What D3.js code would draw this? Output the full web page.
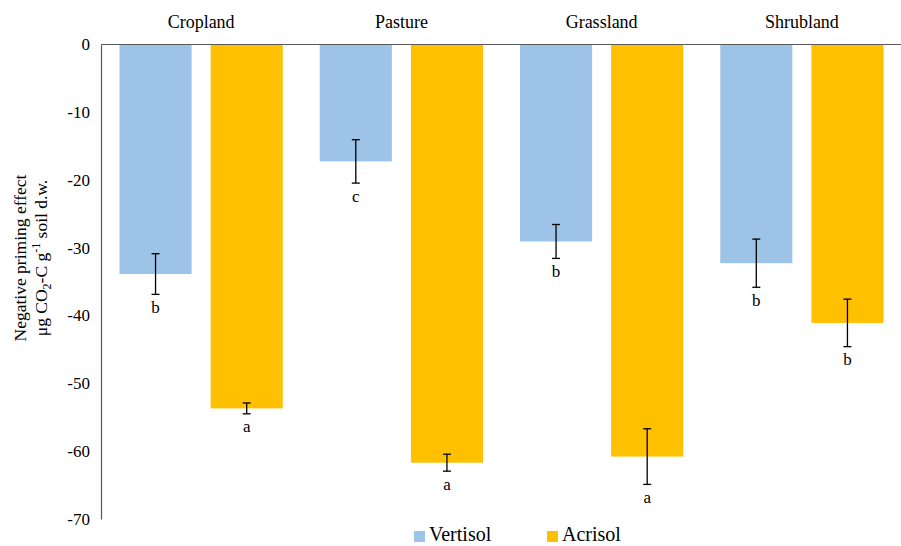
<!DOCTYPE html>
<html>
<head>
<meta charset="utf-8">
<script src="https://cdn.jsdelivr.net/npm/d3@7"></script>
<style>
  body { margin: 0; background: #fff; }
  svg { display: block; font-family: "Liberation Serif", "Times New Roman", serif; }
</style>
</head>
<body>
<svg id="chart" width="901" height="546"></svg>
<script>
const categories = ["Cropland", "Pasture", "Grassland", "Shrubland"];
const series = ["Vertisol", "Acrisol"];
const vertisolValues = [-33.9, -17.3, -29.1, -32.3];
const acrisolValues = [-53.7, -61.7, -60.8, -41.1];
const vertisolErrors = [3.0, 3.2, 2.5, 3.55];
const acrisolErrors = [0.8, 1.25, 4.1, 3.5];
const vertisolLetters = ["b", "c", "b", "b"];
const acrisolLetters = ["a", "a", "a", "b"];
const yTicks = [0, -10, -20, -30, -40, -50, -60, -70];
const colors = {Vertisol: "#9DC3E6", Acrisol: "#FFC000"};

const data = [];
categories.forEach((c, i) => {
  data.push({cat: c, s: "Vertisol", v: vertisolValues[i], e: vertisolErrors[i], l: vertisolLetters[i]});
  data.push({cat: c, s: "Acrisol", v: acrisolValues[i], e: acrisolErrors[i], l: acrisolLetters[i]});
});

const svg = d3.select("#chart");
const mLeft = 101, mRight = 902, mTop = 44, mBottom = 519;
const serif = "Liberation Serif, Times New Roman, serif";

const x = d3.scaleBand().domain(categories).range([mLeft, mRight]).padding(0);
const xs = d3.scaleBand().domain(series).range([0, x.bandwidth()])
  .paddingInner(0.209).paddingOuter(0.203);
const y = d3.scaleLinear().domain([0, -70]).range([mTop, mBottom]);

// bars
svg.append("g").selectAll("rect").data(data).join("rect")
  .attr("x", d => x(d.cat) + xs(d.s))
  .attr("y", y(0))
  .attr("width", xs.bandwidth())
  .attr("height", d => y(d.v) - y(0))
  .attr("fill", d => colors[d.s]);

// error bars
const eg = svg.append("g").attr("stroke", "#000").attr("stroke-width", 1.3);
data.forEach(d => {
  const cx = x(d.cat) + xs(d.s) + xs.bandwidth() / 2;
  const y1 = y(d.v + d.e), y2 = y(d.v - d.e);
  eg.append("line").attr("x1", cx).attr("x2", cx).attr("y1", y1).attr("y2", y2);
  eg.append("line").attr("x1", cx - 4).attr("x2", cx + 4).attr("y1", y1).attr("y2", y1);
  eg.append("line").attr("x1", cx - 4).attr("x2", cx + 4).attr("y1", y2).attr("y2", y2);
});

// letters
svg.append("g").selectAll("text").data(data).join("text")
  .attr("x", d => x(d.cat) + xs(d.s) + xs.bandwidth() / 2)
  .attr("y", d => y(d.v - d.e) + 18.5)
  .attr("text-anchor", "middle")
  .attr("font-size", 17)
  .attr("font-family", serif)
  .attr("fill", "#000")
  .text(d => d.l);

// y axis
const yAxis = d3.axisLeft(y).tickValues(yTicks).tickSize(0).tickPadding(11)
  .tickFormat(d => String(d));
const ga = svg.append("g").attr("transform", `translate(${mLeft},0)`).call(yAxis);
ga.attr("font-family", serif);
ga.select(".domain").attr("stroke", "#595959").attr("stroke-width", 1.2);
ga.selectAll("text").attr("font-size", 17).attr("font-family", serif).attr("fill", "#000");

// top category axis line
const xAxis = d3.axisTop(x).tickSize(0).tickPadding(16);
const gx = svg.append("g").attr("transform", `translate(0,${mTop})`).call(xAxis);
gx.attr("font-family", serif);
gx.select(".domain").attr("stroke", "#595959").attr("stroke-width", 1.2);
gx.selectAll("text").attr("font-size", 18).attr("font-family", serif).attr("fill", "#000");

// y title
const t = svg.append("text")
  .attr("transform", "translate(0,258) rotate(-90)")
  .attr("text-anchor", "middle")
  .attr("font-size", 17.5)
  .attr("font-family", serif)
  .attr("fill", "#000");
t.append("tspan").attr("x", 0).attr("y", 26).text("Negative priming effect");
const l2 = t.append("tspan").attr("x", 0).attr("y", 47);
l2.append("tspan").text("μg CO");
l2.append("tspan").attr("font-size", 12).attr("dy", 4).text("2");
l2.append("tspan").attr("dy", -4).text("-C g");
l2.append("tspan").attr("font-size", 12).attr("dy", -7).text("-1");
l2.append("tspan").attr("dy", 7).text(" soil d.w.");

// legend
const legendX = [414, 547];
const lg = svg.append("g");
series.forEach((s, i) => {
  lg.append("rect").attr("x", legendX[i]).attr("y", 531).attr("width", 11).attr("height", 11).attr("fill", colors[s]);
  lg.append("text").attr("x", legendX[i] + 15).attr("y", 541).attr("font-size", 20)
    .attr("font-family", serif).attr("fill", "#000").text(s);
});
</script>
</body>
</html>
